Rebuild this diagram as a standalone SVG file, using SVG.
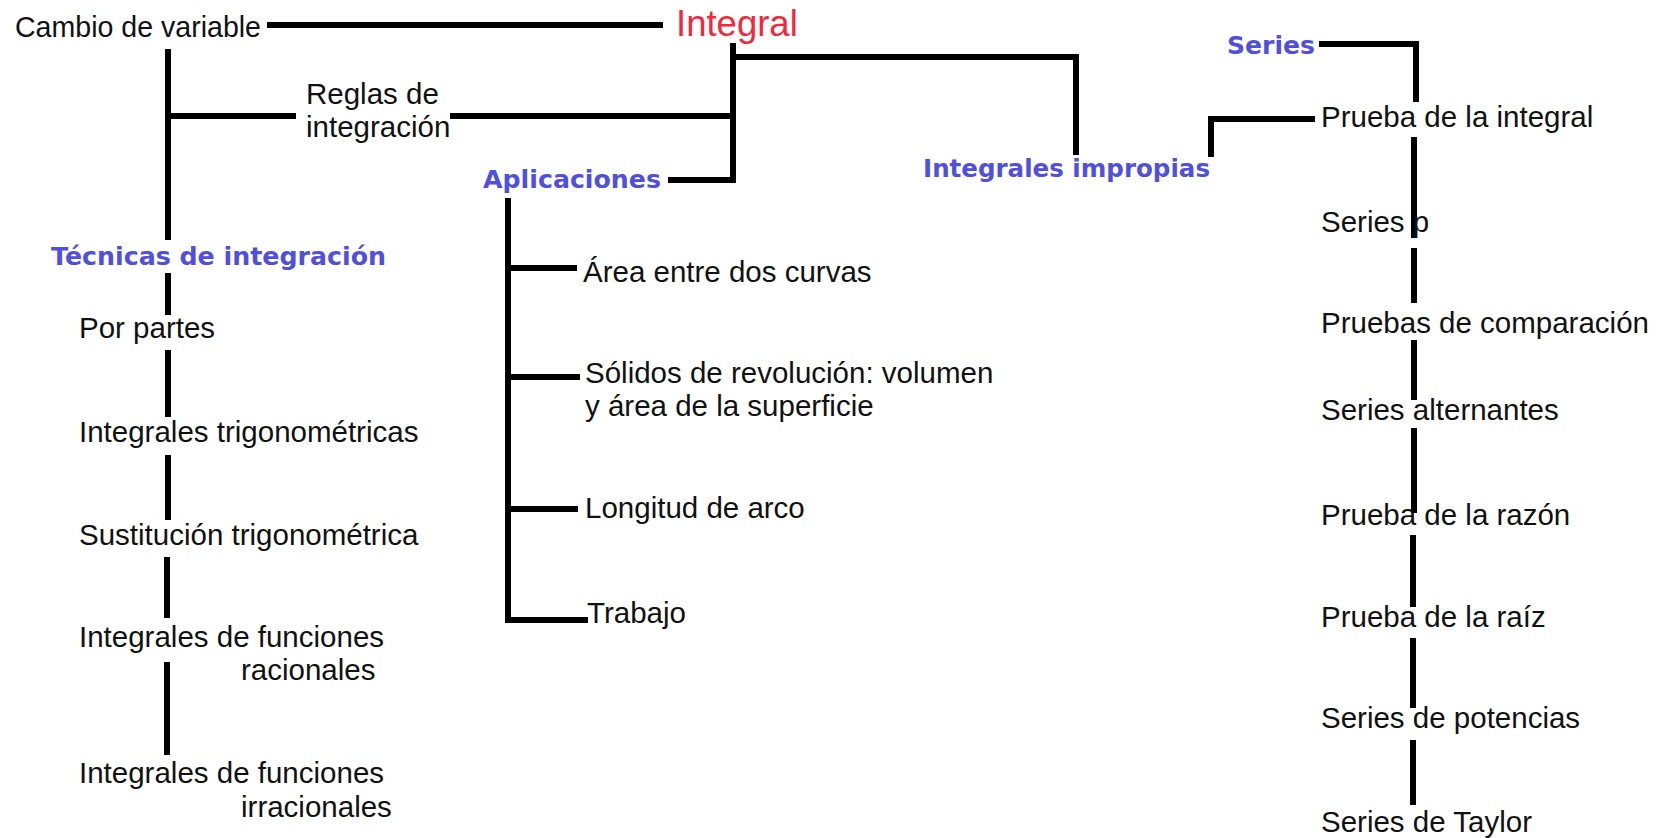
<svg xmlns="http://www.w3.org/2000/svg" width="1657" height="838" viewBox="0 0 1657 838">
<style>
.t{font-family:"Liberation Sans",Arial,sans-serif;font-size:29.5px;fill:#111}
.h{font-family:"DejaVu Sans",Verdana,sans-serif;font-weight:bold;font-size:25px;fill:#5050dc}
.r{font-family:"Liberation Sans",Arial,sans-serif;font-size:36.5px;fill:#f2283c}
.c{fill:none;stroke:#000;stroke-width:6;stroke-linejoin:miter;stroke-linecap:butt}
</style>
<rect width="1657" height="838" fill="#fff"/>
<g id="connectors" class="c">
<path d="M267 25H663"/>
<path d="M168 49V240"/>
<path d="M168 116H296"/>
<path d="M450 116H733"/>
<path d="M668 180H733V43"/>
<path d="M733 57H1076V155"/>
<path d="M168 273V315"/>
<path d="M168 350V417"/>
<path d="M168 455V520"/>
<path d="M167 557V618"/>
<path d="M167 662V755"/>
<path d="M508 198V620H588"/>
<path d="M508 268H577"/>
<path d="M508 377H580"/>
<path d="M508 509H578"/>
<path d="M1211 157V119H1315"/>
<path d="M1319 44H1416V102"/>
<path d="M1414 137V238"/>
<path d="M1414 248V303"/>
<path d="M1414 340V400"/>
<path d="M1414 428V513"/>
<path d="M1413 535V607"/>
<path d="M1413 638V708"/>
<path d="M1413 740V805"/>
</g>
<g id="integral"><text class="r" x="676" y="36">Integral</text></g>
<g id="cambio"><text class="t" x="15" y="37" textLength="246" lengthAdjust="spacingAndGlyphs">Cambio de variable</text></g>
<g id="reglas"><text class="t" x="306" y="104">Reglas de</text><text class="t" x="306" y="137">integración</text></g>
<g id="tecnicas"><text class="h" x="51" y="265" textLength="335" lengthAdjust="spacingAndGlyphs">Técnicas de integración</text></g>
<g id="porpartes"><text class="t" x="79" y="338">Por partes</text></g>
<g id="trig"><text class="t" x="79" y="442">Integrales trigonométricas</text></g>
<g id="sust"><text class="t" x="79" y="545">Sustitución trigonométrica</text></g>
<g id="racionales"><text class="t" x="79" y="647">Integrales de funciones</text><text class="t" x="241" y="680">racionales</text></g>
<g id="irracionales"><text class="t" x="79" y="783">Integrales de funciones</text><text class="t" x="241" y="817">irracionales</text></g>
<g id="aplicaciones"><text class="h" x="483" y="188" textLength="178" lengthAdjust="spacingAndGlyphs">Aplicaciones</text></g>
<g id="area"><text class="t" x="583" y="282">Área entre dos curvas</text></g>
<g id="solidos"><text class="t" x="585" y="383">Sólidos de revolución: volumen</text><text class="t" x="585" y="416">y área de la superficie</text></g>
<g id="longitud"><text class="t" x="585" y="518">Longitud de arco</text></g>
<g id="trabajo"><text class="t" x="587" y="623">Trabajo</text></g>
<g id="impropias"><text class="h" x="923" y="177" textLength="287" lengthAdjust="spacingAndGlyphs">Integrales impropias</text></g>
<g id="series"><text class="h" x="1227" y="54" textLength="88" lengthAdjust="spacingAndGlyphs">Series</text></g>
<g id="pintegral"><text class="t" x="1321" y="127">Prueba de la integral</text></g>
<g id="seriesp"><text class="t" x="1321" y="232">Series p</text></g>
<g id="comparacion"><text class="t" x="1321" y="333">Pruebas de comparación</text></g>
<g id="alternantes"><text class="t" x="1321" y="420">Series alternantes</text></g>
<g id="razon"><text class="t" x="1321" y="525">Prueba de la razón</text></g>
<g id="raiz"><text class="t" x="1321" y="627">Prueba de la raíz</text></g>
<g id="potencias"><text class="t" x="1321" y="728">Series de potencias</text></g>
<g id="taylor"><text class="t" x="1321" y="832">Series de Taylor</text></g>
</svg>
